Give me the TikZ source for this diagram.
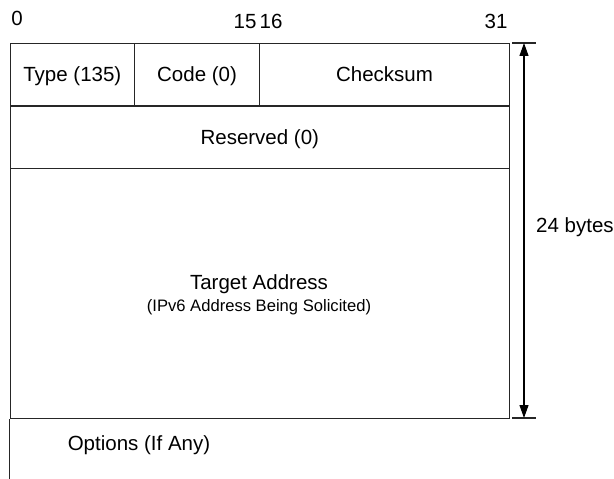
\documentclass[tikz,border=0pt]{standalone}
\usepackage{fontspec}
\setmainfont{Liberation Sans}
\usetikzlibrary{arrows.meta}
\tikzset{
  field/.style={draw=black!85, line width=1.1bp, anchor=north west, inner sep=0pt,
    text height=14bp, text depth=0.5bp,
    font=\fontsize{20.5bp}{24bp}\selectfont},
  lbl/.style={inner sep=0pt, font=\fontsize{20.5bp}{24bp}\selectfont},
  rule/.style={draw=black!85, line width=1.1bp},
  dim/.style={draw=black, line width=1.1bp, {Triangle[length=13bp,width=9bp]}-{Triangle[length=13bp,width=9bp]}}
}
\begin{document}
\begin{tikzpicture}[x=1bp,y=-1bp]
\useasboundingbox (0,0) rectangle (614,479);
% header bit numbers
\node[lbl] (b0) at (17,18) {0};
\node[lbl] (b15) at (245,21.5) {15};
\node[lbl] (b16) at (271,21.5) {16};
\node[lbl] (b31) at (496,21.5) {31};
% fields
\node[field, minimum width=124.5bp, minimum height=62.5bp] (type) at (9.5,43) {Type (135)};
\node[field, minimum width=125bp, minimum height=62.5bp] (code) at (134,43) {Code (0)};
\node[field, minimum width=250bp, minimum height=62.5bp] (cks) at (259,43) {Checksum};
\node[field, minimum width=499.5bp, minimum height=62.5bp] (res) at (9.5,105.5) {Reserved (0)};
\node[field, minimum width=499.5bp, minimum height=250bp] (tgt) at (9.5,168) {};
\node[lbl, align=center] (tgttxt) at (259,295) {Target Address\\[-1.5bp]{\fontsize{16.6bp}{20bp}\selectfont (IPv6 Address Being Solicited)}};
% options
\coordinate (optend) at (9.5,479);
\draw[rule] (tgt.south west) -- (optend);
\node[lbl] (opt) at (139,445) {Options (If Any)};
% dimension
\coordinate (t1) at (512,43);
\coordinate (t2) at (536,43);
\coordinate (u1) at (512,418);
\coordinate (u2) at (536,418);
\coordinate (at) at (524,43);
\coordinate (ab) at (524,418);
\draw[rule] (t1) -- (t2);
\draw[rule] (u1) -- (u2);
\draw[dim] (at) -- (ab);
\node[lbl, anchor=west] (bytes) at (536,227) {24 bytes};
\end{tikzpicture}
\end{document}
